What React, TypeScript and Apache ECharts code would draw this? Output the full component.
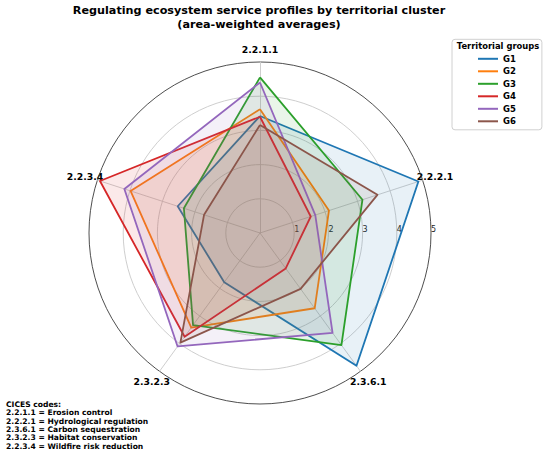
import React, { useEffect, useRef } from "react";
import * as echarts from "echarts";

// Axes in clockwise order starting from the top
const AXES = ["2.2.1.1", "2.2.2.1", "2.3.6.1", "2.3.2.3", "2.2.3.4"];
const GROUPS = ["G1", "G2", "G3", "G4", "G5", "G6"];
const COLORS = ["#1f77b4", "#ff7f0e", "#2ca02c", "#d62728", "#9467bd", "#8c564b"];

// values in AXES order
const G1 = [3.42, 4.87, 4.8, 1.78, 2.53];
const G2 = [3.62, 2.12, 2.72, 3.42, 3.98];
const G3 = [4.55, 3.15, 4.05, 3.33, 2.34];
const G4 = [3.4, 1.56, 1.28, 3.75, 4.92];
const G5 = [4.4, 1.7, 3.61, 4.1, 4.17];
const G6 = [3.16, 3.61, 2.02, 3.96, 1.72];
const VALUES = [G1, G2, G3, G4, G5, G6];

const RING_TICKS = [0, 1, 2, 3, 4, 5];
const R_MAX = 5;

const TITLE = "Regulating ecosystem service profiles by territorial cluster\n(area-weighted averages)";
const LEGEND_TITLE = "Territorial groups";
const FOOTNOTE = [
  "CICES codes:",
  "2.2.1.1 = Erosion control",
  "2.2.2.1 = Hydrological regulation",
  "2.3.6.1 = Carbon sequestration",
  "2.3.2.3 = Habitat conservation",
  "2.2.3.4 = Wildfire risk reduction",
];

// ECharts radar places indicators counter-clockwise; reorder from clockwise list
const ORDER = [0, 4, 3, 2, 1];

const FONT = '"DejaVu Sans", sans-serif';

export default function App() {
  const ref = useRef<HTMLDivElement>(null);
  useEffect(() => {
    if (!ref.current) return;
    const chart = echarts.init(ref.current, undefined, { renderer: "svg" });
    const cx = 260;
    const cy = 233;
    const R = 171;
    const labelR = 184;

    const axisLabels = AXES.map((name, i) => {
      const ang = ((90 - i * 72) * Math.PI) / 180;
      return {
        type: "text",
        silent: true,
        style: {
          text: name,
          x: cx + labelR * Math.cos(ang),
          y: cy - labelR * Math.sin(ang),
          textAlign: "center",
          textVerticalAlign: "middle",
          fill: "#000",
          font: `bold 9.3px ${FONT}`,
        },
      };
    });

    const option: any = {
      animation: false,
      backgroundColor: "#fff",
      radar: {
        center: [cx, cy],
        radius: R,
        startAngle: 90,
        shape: "circle",
        splitNumber: 5,
        indicator: ORDER.map((i) => ({ name: AXES[i], min: 0, max: R_MAX })),
        axisName: { show: false },
        splitLine: {
          lineStyle: {
            color: ["#c8c8c8", "#c8c8c8", "#c8c8c8", "#c8c8c8", "#c8c8c8", "#3a3a3a"],
            width: 0.9,
          },
        },
        splitArea: { show: false },
        axisLine: { lineStyle: { color: "#c8c8c8", width: 0.9 } },
        axisTick: { show: false },
        axisLabel: { show: false },
      },
      polar: { center: [cx, cy], radius: R },
      angleAxis: { show: false, startAngle: 0, min: 0, max: 360 },
      radiusAxis: {
        min: 0,
        max: R_MAX,
        interval: 1,
        axisLine: { show: false },
        axisTick: { show: false },
        splitLine: { show: false },
        axisLabel: {
          show: true,
          margin: 0,
          align: "left",
          fontSize: 8,
          fontFamily: FONT,
          color: "#222",
          formatter: (v: number) => (v === RING_TICKS[0] ? "" : String(v)),
        },
      },
      legend: {
        data: GROUPS,
        orient: "vertical",
        left: 452,
        top: 39.3,
        padding: [14, 26, 3, 26],
        borderColor: "#d0d0d0",
        borderWidth: 1,
        borderRadius: 3,
        backgroundColor: "#fff",
        icon: "rect",
        itemWidth: 20,
        itemHeight: 2,
        itemGap: 1.5,
        selectedMode: false,
        textStyle: {
          fontSize: 8.5,
          fontWeight: "bold",
          fontFamily: FONT,
          lineHeight: 11,
          color: "#000",
        },
      },
      series: GROUPS.map((g, gi) => ({
        type: "radar",
        name: g,
        symbol: "none",
        lineStyle: { color: COLORS[gi], width: 1.8 },
        itemStyle: { color: COLORS[gi] },
        areaStyle: { color: COLORS[gi], opacity: 0.1 },
        data: [{ name: g, value: ORDER.map((i) => VALUES[gi][i]) }],
      })),
      graphic: [
        {
          type: "text",
          silent: true,
          style: {
            text: TITLE,
            x: 259,
            y: 3,
            textAlign: "center",
            textVerticalAlign: "top",
            lineHeight: 14,
            fill: "#000",
            font: `bold 11.2px ${FONT}`,
          },
        },
        ...axisLabels,
        {
          type: "text",
          silent: true,
          z: 100,
          style: {
            text: LEGEND_TITLE,
            x: 498,
            y: 46,
            textAlign: "center",
            textVerticalAlign: "middle",
            fill: "#000",
            font: `bold 8.4px ${FONT}`,
          },
        },
        {
          type: "text",
          silent: true,
          style: {
            text: FOOTNOTE.join("\n"),
            x: 6,
            y: 400,
            textAlign: "left",
            textVerticalAlign: "top",
            lineHeight: 8.4,
            fill: "#000",
            font: `bold 7.6px ${FONT}`,
          },
        },
      ],
    };
    chart.setOption(option);
    return () => chart.dispose();
  }, []);
  return (
    <div
      ref={ref}
      style={{ position: "fixed", left: 0, top: 0, width: 550, height: 454 }}
    />
  );
}
